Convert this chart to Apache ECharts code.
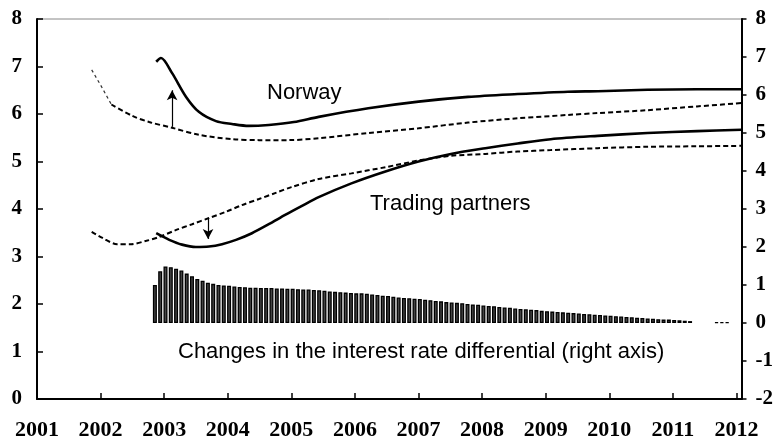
<!DOCTYPE html>
<html>
<head>
<meta charset="utf-8">
<title>Interest rates: Norway and trading partners</title>
<script src="https://cdn.jsdelivr.net/npm/echarts/dist/echarts.min.js"></script>
<style>
  body { margin: 0; padding: 0; background: #fff; }
  #main { width: 776px; height: 443px; }
</style>
</head>
<body>
<div id="main"></div>
<script>
// x axis years (labels at each January)
var yearTicks = [2001, 2002, 2003, 2004, 2005, 2006, 2007, 2008, 2009, 2010, 2011, 2012];

// Norway, new path (solid)
var norwayNewT = [2002.875, 2002.95, 2003.125, 2003.345, 2003.55, 2003.815, 2004.065, 2004.33, 2004.645, 2005.04, 2005.43, 2006.21, 2007.0, 2007.78, 2008.56, 2009.35, 2009.82, 2010.6, 2011.38, 2012.08];
var norwayNew = [7.10, 7.18, 6.86, 6.36, 6.04, 5.85, 5.79, 5.75, 5.77, 5.83, 5.94, 6.12, 6.26, 6.36, 6.42, 6.47, 6.48, 6.51, 6.52, 6.52];

// Norway, previous path (dashed) + thin historical piece at the start
var norwayHistT = [2001.86, 2002.0, 2002.17];
var norwayHist = [6.93, 6.61, 6.20];
var norwayOldT = [2002.17, 2002.5, 2002.765, 2003.125, 2003.55, 2004.065, 2004.49, 2004.96, 2005.43, 2006.21, 2007.0, 2007.78, 2008.56, 2009.35, 2009.82, 2010.6, 2011.38, 2012.08];
var norwayOld = [6.20, 5.96, 5.83, 5.71, 5.56, 5.47, 5.45, 5.45, 5.49, 5.60, 5.70, 5.82, 5.91, 5.98, 6.02, 6.08, 6.16, 6.23];

// Trading partners, new path (solid)
var tradeNewT = [2002.875, 2003.08, 2003.28, 2003.50, 2003.705, 2003.91, 2004.13, 2004.38, 2004.645, 2004.91, 2005.16, 2005.43, 2005.945, 2006.48, 2007.0, 2007.51, 2008.05, 2008.56, 2009.08, 2009.82, 2010.6, 2011.38, 2012.08];
var tradeNew = [3.49, 3.35, 3.25, 3.20, 3.21, 3.26, 3.35, 3.49, 3.68, 3.88, 4.06, 4.25, 4.54, 4.79, 5.00, 5.16, 5.28, 5.38, 5.47, 5.54, 5.60, 5.64, 5.67];

// Trading partners, previous path (dashed)
var tradeOldT = [2001.86, 2002.03, 2002.26, 2002.48, 2002.72, 2002.92, 2003.19, 2003.44, 2003.705, 2003.97, 2004.22, 2004.49, 2004.755, 2005.0, 2005.43, 2005.945, 2006.48, 2007.0, 2007.51, 2008.05, 2008.56, 2009.08, 2009.82, 2010.6, 2011.38, 2012.08];
var tradeOld = [3.52, 3.39, 3.26, 3.26, 3.33, 3.41, 3.56, 3.68, 3.81, 3.94, 4.08, 4.21, 4.34, 4.46, 4.63, 4.75, 4.88, 5.02, 5.12, 5.16, 5.21, 5.24, 5.28, 5.31, 5.32, 5.33];

// change in interest rate differential, monthly from Nov 2002 (right axis)
var barStartYear = 2002, barStartMonth = 11;
var barDiff = [
  1.00, 1.36, 1.49, 1.47, 1.43, 1.38, 1.30, 1.23, 1.16, 1.11, 1.06, 1.03,
  1.00, 0.99, 0.98, 0.96, 0.95, 0.94, 0.93, 0.93, 0.92, 0.92, 0.92, 0.91,
  0.91, 0.90, 0.90, 0.89, 0.88, 0.88, 0.87, 0.86, 0.85, 0.83, 0.82, 0.81,
  0.80, 0.79, 0.78, 0.78, 0.77, 0.75, 0.74, 0.72, 0.71, 0.69, 0.67, 0.66,
  0.65, 0.64, 0.63, 0.61, 0.60, 0.58, 0.57, 0.55, 0.54, 0.53, 0.52, 0.50,
  0.49, 0.48, 0.46, 0.45, 0.44, 0.42, 0.41, 0.40, 0.38, 0.37, 0.36, 0.35,
  0.34, 0.32, 0.31, 0.30, 0.29, 0.28, 0.27, 0.26, 0.25, 0.24, 0.23, 0.22,
  0.21, 0.20, 0.19, 0.18, 0.17, 0.16, 0.15, 0.14, 0.13, 0.12, 0.11, 0.10,
  0.09, 0.09, 0.08, 0.07, 0.06, 0.05, null, null, null, null, 0.02, 0.02,
  0.02
];

function zip(ts, vs) {
  return ts.map(function (t, i) { return [t, vs[i]]; });
}

var barData = [];
barDiff.forEach(function (v, i) {
  if (v === null) return;
  var m = barStartMonth - 1 + i;
  var t = barStartYear + Math.floor(m / 12) + (m % 12) / 12 + 1 / 48;
  barData.push([t, v]);
});

var serifBold = { fontFamily: '"Liberation Serif", "Times New Roman", serif', fontWeight: 'bold', color: '#000' };
var solid = { color: '#000', width: 2.6, type: 'solid' };
var dashed = { color: '#000', width: 2, type: [5, 3] };

function arrow(x, from, to) {
  return {
    silent: true,
    symbol: ['none', 'arrow'],
    symbolSize: [8, 10],
    label: { show: false },
    lineStyle: { color: '#000', width: 1.2, type: 'solid' },
    data: [[{ coord: [x, from] }, { coord: [x, to] }]]
  };
}

var chart = echarts.init(document.getElementById('main'));
chart.setOption({
  animation: false,
  backgroundColor: '#fff',
  grid: { left: 37, right: 32, top: 19, bottom: 44, show: true, borderColor: '#888', borderWidth: 1 },
  xAxis: {
    type: 'value',
    min: 2001, max: 2012.08, interval: 1,
    splitLine: { show: false },
    axisLine: { lineStyle: { color: '#000', width: 2 } },
    axisTick: { inside: true, length: 6, lineStyle: { color: '#000', width: 1.5 } },
    axisLabel: Object.assign({
      fontSize: 22, margin: 20,
      formatter: function (v) { return yearTicks.indexOf(v) >= 0 ? String(v) : ''; }
    }, serifBold)
  },
  yAxis: [{
    type: 'value', min: 0, max: 8, interval: 1, position: 'left',
    splitLine: { show: false },
    axisLine: { show: true, lineStyle: { color: '#000', width: 2 } },
    axisTick: { show: true, inside: true, length: 6, lineStyle: { color: '#000', width: 1.5 } },
    axisLabel: Object.assign({ fontSize: 21, margin: 15 }, serifBold)
  }, {
    type: 'value', min: -2, max: 8, interval: 1, position: 'right',
    splitLine: { show: false },
    axisLine: { show: true, lineStyle: { color: '#000', width: 2 } },
    axisTick: { show: true, inside: false, length: 5, lineStyle: { color: '#000', width: 1.5 } },
    axisLabel: Object.assign({ fontSize: 21, margin: 14 }, serifBold)
  }],
  series: [{
    type: 'bar', yAxisIndex: 1, data: barData,
    barWidth: 4,
    itemStyle: { color: '#444', borderColor: '#000', borderWidth: 1.3 }
  }, {
    type: 'line', data: zip(norwayHistT, norwayHist), showSymbol: false, symbol: 'none',
    lineStyle: { color: '#333', width: 1.2, type: [3, 3] }
  }, {
    type: 'line', data: zip(norwayOldT, norwayOld), showSymbol: false, symbol: 'none',
    smooth: 0.3, lineStyle: dashed,
    markLine: arrow(2003.125, 5.73, 6.5)
  }, {
    type: 'line', data: zip(norwayNewT, norwayNew), showSymbol: false, symbol: 'none',
    smooth: 0.3, lineStyle: solid
  }, {
    type: 'line', data: zip(tradeOldT, tradeOld), showSymbol: false, symbol: 'none',
    smooth: 0.3, lineStyle: dashed,
    markLine: arrow(2003.69, 3.81, 3.37)
  }, {
    type: 'line', data: zip(tradeNewT, tradeNew), showSymbol: false, symbol: 'none',
    smooth: 0.3, lineStyle: solid
  }],
  graphic: [{
    type: 'text', x: 267, y: 93,
    style: { text: 'Norway', font: '22px "Liberation Sans", Arial, sans-serif', fill: '#000', verticalAlign: 'middle' }
  }, {
    type: 'text', x: 370, y: 204,
    style: { text: 'Trading partners', font: '22px "Liberation Sans", Arial, sans-serif', fill: '#000', verticalAlign: 'middle' }
  }, {
    type: 'text', x: 178, y: 352,
    style: { text: 'Changes in the interest rate differential (right axis)', font: '22px "Liberation Sans", Arial, sans-serif', fill: '#000', verticalAlign: 'middle' }
  }]
});
</script>
</body>
</html>
